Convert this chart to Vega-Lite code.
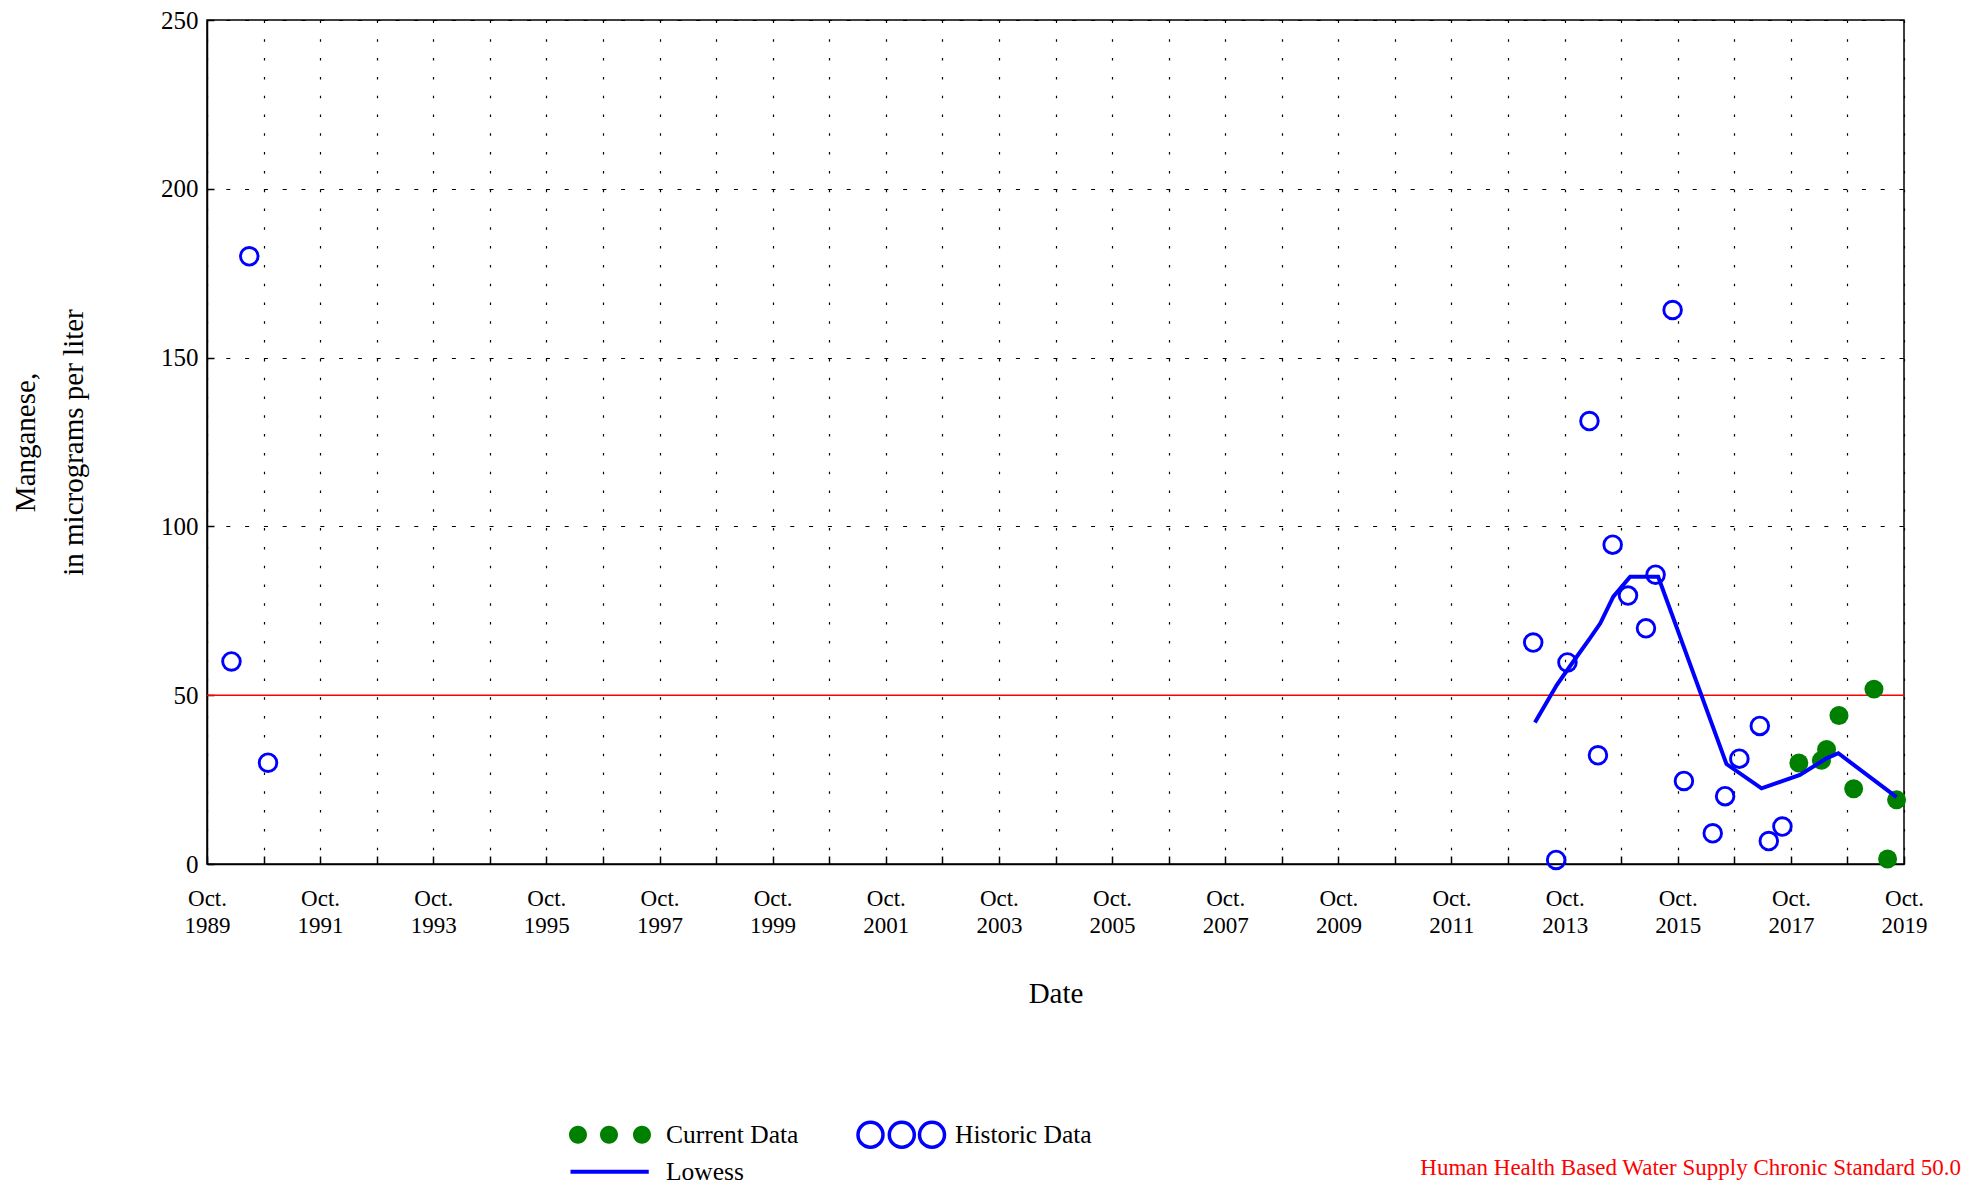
{
  "$schema": "https://vega.github.io/schema/vega-lite/v6.json",
  "width": 1697,
  "height": 844,
  "autosize": {"type": "none"},
  "padding": {"left": 207, "top": 20, "right": 59, "bottom": 324},
  "background": "white",
  "config": {"view": {"stroke": "black", "strokeWidth": 1.5}, "font": "Liberation Serif",
    "legend": {"orient": "none", "direction": "vertical", "title": null, "padding": 0, "symbolSize": 400,
      "labelFont": "Liberation Serif", "labelFontSize": 25.5, "labelColor": "black", "symbolOpacity": 1}},
  "title": {"text": "Human Health Based Water Supply Chronic Standard 50.0", "orient": "bottom", "anchor": "end", "frame": "group", "color": "red", "font": "Liberation Serif", "fontSize": 23, "fontWeight": "normal", "dx": 57, "offset": -29},
  "data": {"values": [
    {"series": "Standard", "value": 50},
    {"series": "Historic Data", "date": "1990-03-08", "value": 60},
    {"series": "Historic Data", "date": "1990-07-01", "value": 180},
    {"series": "Historic Data", "date": "1990-10-30", "value": 30},
    {"series": "Historic Data", "date": "2013-03-12", "value": 65.6},
    {"series": "Historic Data", "date": "2013-08-07", "value": 1.2},
    {"series": "Historic Data", "date": "2013-10-19", "value": 59.7},
    {"series": "Historic Data", "date": "2014-03-10", "value": 131.2},
    {"series": "Historic Data", "date": "2014-05-04", "value": 32.2},
    {"series": "Historic Data", "date": "2014-08-07", "value": 94.6},
    {"series": "Historic Data", "date": "2014-11-14", "value": 79.5},
    {"series": "Historic Data", "date": "2015-03-10", "value": 69.8},
    {"series": "Historic Data", "date": "2015-05-11", "value": 85.7},
    {"series": "Historic Data", "date": "2015-08-29", "value": 164.1},
    {"series": "Historic Data", "date": "2015-11-10", "value": 24.6},
    {"series": "Historic Data", "date": "2016-05-14", "value": 9.1},
    {"series": "Historic Data", "date": "2016-08-02", "value": 20.1},
    {"series": "Historic Data", "date": "2016-11-02", "value": 31.2},
    {"series": "Historic Data", "date": "2017-03-14", "value": 40.9},
    {"series": "Historic Data", "date": "2017-05-11", "value": 6.8},
    {"series": "Historic Data", "date": "2017-08-07", "value": 11.1},
    {"series": "Current Data", "date": "2017-11-21", "value": 29.9},
    {"series": "Current Data", "date": "2018-04-16", "value": 30.7},
    {"series": "Current Data", "date": "2018-05-19", "value": 33.9},
    {"series": "Current Data", "date": "2018-08-07", "value": 44},
    {"series": "Current Data", "date": "2018-11-10", "value": 22.3},
    {"series": "Current Data", "date": "2019-03-21", "value": 51.8},
    {"series": "Current Data", "date": "2019-06-17", "value": 1.5},
    {"series": "Current Data", "date": "2019-08-14", "value": 19},
    {"series": "Lowess", "date": "2013-03-23", "value": 41.9},
    {"series": "Lowess", "date": "2013-08-11", "value": 53.0},
    {"series": "Lowess", "date": "2013-11-03", "value": 58.5},
    {"series": "Lowess", "date": "2014-03-14", "value": 66.9},
    {"series": "Lowess", "date": "2014-05-19", "value": 71.3},
    {"series": "Lowess", "date": "2014-08-11", "value": 79.2},
    {"series": "Lowess", "date": "2014-11-28", "value": 85.1},
    {"series": "Lowess", "date": "2015-05-28", "value": 85.1},
    {"series": "Lowess", "date": "2016-08-11", "value": 29.6},
    {"series": "Lowess", "date": "2017-03-25", "value": 22.4},
    {"series": "Lowess", "date": "2017-11-28", "value": 26.4},
    {"series": "Lowess", "date": "2018-05-19", "value": 31.3},
    {"series": "Lowess", "date": "2018-08-03", "value": 32.8},
    {"series": "Lowess", "date": "2019-08-14", "value": 19.8}
  ]},
  "encoding": {
    "y": {"field": "value", "type": "quantitative",
      "scale": {"domain": [0, 250], "nice": false, "zero": true},
      "axis": {"title": ["Manganese,", "in micrograms per liter"], "values": [0, 50, 100, 150, 200, 250],
        "labelFont": "Liberation Serif", "labelFontSize": 25, "labelColor": "black", "labelPadding": 16,
        "tickSize": -7, "tickColor": "black", "tickWidth": 1.5,
        "domainColor": "black", "domainWidth": 1.5,
        "grid": true, "gridColor": "black", "gridDash": [4, 14.8], "gridWidth": 1.2, "gridOpacity": 1,
        "titleFont": "Liberation Serif", "titleFontSize": 29, "titleFontWeight": "normal", "titleColor": "black", "titleLineHeight": 48, "titlePadding": 72}}
  },
  "layer": [
    {
      "transform": [{"filter": "datum.series === 'Standard'"}],
      "mark": {"type": "rule", "color": "#ff0000", "strokeWidth": 1.5},
      "encoding": {}
    },
    {
      "transform": [{"filter": "datum.series === 'Historic Data'"}],
      "mark": {"type": "point", "filled": false, "shape": "circle", "size": 310, "strokeWidth": 2.9, "opacity": 1},
      "encoding": {
        "x": {"field": "date", "type": "temporal",
          "scale": {"type": "utc", "domain": [{"year": 1989, "month": 10, "date": 1, "utc": true}, {"year": 2019, "month": 10, "date": 1, "utc": true}]},
          "axis": {"title": "Date",
            "values": [{"year":1989,"month":10,"date":1,"utc":true},{"year":1990,"month":10,"date":1,"utc":true},{"year":1991,"month":10,"date":1,"utc":true},{"year":1992,"month":10,"date":1,"utc":true},{"year":1993,"month":10,"date":1,"utc":true},{"year":1994,"month":10,"date":1,"utc":true},{"year":1995,"month":10,"date":1,"utc":true},{"year":1996,"month":10,"date":1,"utc":true},{"year":1997,"month":10,"date":1,"utc":true},{"year":1998,"month":10,"date":1,"utc":true},{"year":1999,"month":10,"date":1,"utc":true},{"year":2000,"month":10,"date":1,"utc":true},{"year":2001,"month":10,"date":1,"utc":true},{"year":2002,"month":10,"date":1,"utc":true},{"year":2003,"month":10,"date":1,"utc":true},{"year":2004,"month":10,"date":1,"utc":true},{"year":2005,"month":10,"date":1,"utc":true},{"year":2006,"month":10,"date":1,"utc":true},{"year":2007,"month":10,"date":1,"utc":true},{"year":2008,"month":10,"date":1,"utc":true},{"year":2009,"month":10,"date":1,"utc":true},{"year":2010,"month":10,"date":1,"utc":true},{"year":2011,"month":10,"date":1,"utc":true},{"year":2012,"month":10,"date":1,"utc":true},{"year":2013,"month":10,"date":1,"utc":true},{"year":2014,"month":10,"date":1,"utc":true},{"year":2015,"month":10,"date":1,"utc":true},{"year":2016,"month":10,"date":1,"utc":true},{"year":2017,"month":10,"date":1,"utc":true},{"year":2018,"month":10,"date":1,"utc":true},{"year":2019,"month":10,"date":1,"utc":true}],
            "labelExpr": "utcyear(datum.value) % 2 == 1 ? ['Oct.', '' + utcyear(datum.value)] : ''",
            "labelFont": "Liberation Serif", "labelFontSize": 23, "labelColor": "black", "labelLineHeight": 27, "labelPadding": 31,
            "labelAngle": 0, "labelAlign": "center", "labelBaseline": "top", "labelOverlap": false, "labelFlush": false,
            "tickSize": -8, "tickColor": "black", "tickWidth": 1.5,
            "domainColor": "black", "domainWidth": 1.5,
            "grid": true, "gridColor": "black", "gridDash": [2.5, 16.3], "gridWidth": 1.2, "gridOpacity": 1,
            "titleFont": "Liberation Serif", "titleFontSize": 29, "titleFontWeight": "normal", "titleColor": "black", "titlePadding": 42}},
        "stroke": {"field": "series", "type": "nominal",
          "scale": {"domain": ["Historic Data"], "range": ["#0000ff"]},
          "legend": {"legendX": 649, "legendY": 1102, "labelOffset": 73.5,
            "symbolType": "M-1.075,0a1.25,1.25 0 1,0 2.5,0a1.25,1.25 0 1,0 -2.5,0Z M2.055,0a1.25,1.25 0 1,0 2.5,0a1.25,1.25 0 1,0 -2.5,0Z M5.075,0a1.25,1.25 0 1,0 2.5,0a1.25,1.25 0 1,0 -2.5,0Z",
            "symbolStrokeWidth": 3.5, "symbolFillColor": "transparent", "symbolStrokeColor": "#0000ff"}}
      }
    },
    {
      "transform": [{"filter": "datum.series === 'Current Data'"}],
      "mark": {"type": "circle", "size": 360, "opacity": 1},
      "encoding": {
        "x": {"field": "date", "type": "temporal"},
        "fill": {"field": "series", "type": "nominal",
          "scale": {"domain": ["Current Data"], "range": ["#008000"]},
          "legend": {"legendX": 362, "legendY": 1102, "labelOffset": 71.5,
            "symbolType": "M-1.275,0a0.9,0.9 0 1,0 1.8,0a0.9,0.9 0 1,0 -1.8,0Z M1.825,0a0.9,0.9 0 1,0 1.8,0a0.9,0.9 0 1,0 -1.8,0Z M5.125,0a0.9,0.9 0 1,0 1.8,0a0.9,0.9 0 1,0 -1.8,0Z",
            "symbolStrokeWidth": 0, "symbolFillColor": "#008000"}}
      }
    },
    {
      "transform": [{"filter": "datum.series === 'Lowess'"}],
      "mark": {"type": "line", "strokeWidth": 4},
      "encoding": {
        "x": {"field": "date", "type": "temporal"},
        "color": {"field": "series", "type": "nominal",
          "scale": {"domain": ["Lowess"], "range": ["#0000ff"]},
          "legend": {"legendX": 362, "legendY": 1139, "labelOffset": 71.5,
            "symbolType": "M-1.125,0H6.7", "symbolStrokeWidth": 4, "symbolStrokeColor": "#0000ff"}}
      }
    }
  ]
}
